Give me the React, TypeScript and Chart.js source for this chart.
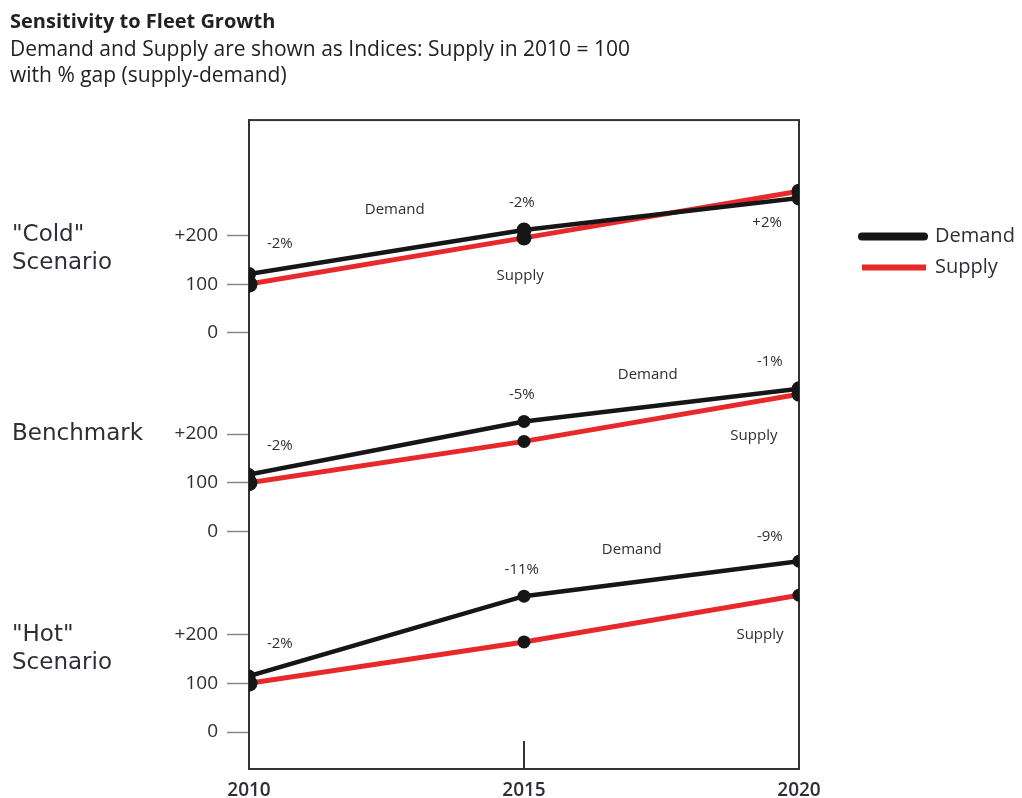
import React, { useEffect, useRef } from 'react';
import { Chart, registerables } from 'chart.js';

Chart.register(...registerables);

// ---- data ----
const years = [2010, 2015, 2020];
const coldDemand = [121, 211, 277];
const coldSupply = [100, 195, 291];
const benchDemand = [117, 226, 293];
const benchSupply = [100, 185, 282];
const hotDemand = [115, 279, 351];
const hotSupply = [100, 185, 281];

const yTickValues = [0, 100, 200];
const yTickLabels = ['0', '100', '+200'];

const titleText = 'Sensitivity to Fleet Growth';
const subtitleLines = [
  'Demand and Supply are shown as Indices: Supply in 2010 = 100',
  'with % gap (supply-demand)',
];
const legendLabels = ['Demand', 'Supply'];

// annotations: [text, year, index value]
const coldNotes: [string, number, number][] = [
  ['-2%', 2010.56, 183],
  ['Demand', 2012.65, 252],
  ['-2%', 2014.96, 267],
  ['Supply', 2014.93, 117],
  ['+2%', 2019.42, 226],
];
const benchNotes: [string, number, number][] = [
  ['-2%', 2010.56, 176],
  ['-5%', 2014.96, 281],
  ['Demand', 2017.25, 322],
  ['-1%', 2019.47, 349],
  ['Supply', 2019.18, 197],
];
const hotNotes: [string, number, number][] = [
  ['-2%', 2010.56, 181],
  ['-11%', 2014.96, 334],
  ['Demand', 2016.96, 375],
  ['-9%', 2019.47, 402],
  ['Supply', 2019.29, 199],
];

const DEMAND_COLOR = '#161616';
const SUPPLY_COLOR = '#e8292b';
const TEXT_COLOR = '#2e2e36';
const FONT = "'Open Sans', 'DejaVu Sans', sans-serif";

export default function App() {
  const ref = useRef<HTMLCanvasElement>(null);

  useEffect(() => {
    const panels = [
      { name: ['"Cold"', 'Scenario'], demand: coldDemand, supply: coldSupply, notes: coldNotes, offset: 820, rd: [7, 7.5, 7.5], rs: [8.5, 7.5, 7.5] },
      { name: ['Benchmark'], demand: benchDemand, supply: benchSupply, notes: benchNotes, offset: 412, rd: [6.5, 6.5, 7.5], rs: [8.5, 6.5, 7.5] },
      { name: ['"Hot"', 'Scenario'], demand: hotDemand, supply: hotSupply, notes: hotNotes, offset: 0, rd: [6.5, 6.5, 6.5], rs: [8.5, 6.5, 6.5] },
    ];

    const datasets: any[] = [];
    panels.forEach((p) => {
      datasets.push({
        label: 'Demand',
        data: years.map((x, i) => ({ x, y: p.demand[i] + p.offset })),
        borderColor: DEMAND_COLOR,
        backgroundColor: DEMAND_COLOR,
        borderWidth: 4.5,
        pointRadius: p.rd,
        pointBackgroundColor: DEMAND_COLOR,
        pointBorderColor: DEMAND_COLOR,
        pointBorderWidth: 0,
        tension: 0,
      });
    });
    panels.forEach((p) => {
      datasets.push({
        label: 'Supply',
        data: years.map((x, i) => ({ x, y: p.supply[i] + p.offset })),
        borderColor: SUPPLY_COLOR,
        backgroundColor: SUPPLY_COLOR,
        borderWidth: 5,
        pointRadius: p.rs,
        pointBackgroundColor: DEMAND_COLOR,
        pointBorderColor: DEMAND_COLOR,
        pointBorderWidth: 0,
        tension: 0,
      });
    });

    const tickVals: number[] = [];
    const tickMap: Record<number, string> = {};
    panels.forEach((p) => {
      yTickValues.forEach((v, i) => {
        tickVals.push(v + p.offset);
        tickMap[v + p.offset] = yTickLabels[i];
      });
    });

    const decor = {
      id: 'decor',
      beforeDatasetsDraw(chart: any) {
        const { ctx, chartArea } = chart;
        const xs = chart.scales.x;
        ctx.save();
        ctx.strokeStyle = '#333';
        ctx.lineWidth = 2;
        ctx.strokeRect(chartArea.left, chartArea.top, chartArea.right - chartArea.left, chartArea.bottom - chartArea.top);
        const x15 = xs.getPixelForValue(2015);
        ctx.beginPath();
        ctx.moveTo(x15, chartArea.bottom);
        ctx.lineTo(x15, chartArea.bottom - 28);
        ctx.stroke();
        ctx.restore();
      },
      afterDatasetsDraw(chart: any) {
        const { ctx } = chart;
        const xs = chart.scales.x;
        const ys = chart.scales.y;
        ctx.save();
        ctx.fillStyle = TEXT_COLOR;
        ctx.textBaseline = 'middle';
        // annotations
        ctx.textAlign = 'center';
        ctx.font = '15px ' + FONT;
        panels.forEach((p) => {
          p.notes.forEach(([t, yr, v]) => {
            ctx.fillText(t, xs.getPixelForValue(yr), ys.getPixelForValue(v + p.offset));
          });
        });
        // scenario names
        ctx.textAlign = 'left';
        ctx.font = "23px 'DejaVu Sans', sans-serif";
        panels.forEach((p) => {
          const y0 = ys.getPixelForValue(200 + p.offset);
          p.name.forEach((line, i) => ctx.fillText(line, 12, y0 + i * 28));
        });
        // legend
        const lx = 862;
        const ly = ys.getPixelForValue(200 + panels[0].offset) + 1;
        ctx.lineCap = 'round';
        ctx.strokeStyle = DEMAND_COLOR;
        ctx.lineWidth = 8;
        ctx.beginPath();
        ctx.moveTo(lx, ly);
        ctx.lineTo(lx + 62, ly);
        ctx.stroke();
        ctx.strokeStyle = SUPPLY_COLOR;
        ctx.lineWidth = 6;
        ctx.lineCap = 'butt';
        ctx.beginPath();
        ctx.moveTo(lx, ly + 31);
        ctx.lineTo(lx + 64, ly + 31);
        ctx.stroke();
        ctx.font = '20px ' + FONT;
        ctx.fillText(legendLabels[0], lx + 73, ly);
        ctx.fillText(legendLabels[1], lx + 73, ly + 31);
        ctx.restore();
      },
    };

    const chart = new Chart(ref.current as HTMLCanvasElement, {
      type: 'line',
      data: { datasets },
      options: {
        animation: false,
        responsive: true,
        maintainAspectRatio: false,
        layout: { padding: { left: 10, right: 223, top: 0, bottom: 0 } },
        plugins: {
          legend: { display: false },
          tooltip: { enabled: false },
          title: {
            display: true,
            text: titleText,
            align: 'start',
            color: '#222',
            font: { family: FONT, size: 20, weight: 'bold', lineHeight: 1.2 },
            padding: { top: 10, bottom: 3 },
          },
          subtitle: {
            display: true,
            text: subtitleLines,
            align: 'start',
            color: '#222',
            font: { family: FONT, size: 21, lineHeight: 1.24 },
            padding: { top: 0, bottom: 31 },
          },
        },
        scales: {
          x: {
            type: 'linear',
            min: 2010,
            max: 2020,
            afterFit: (s: any) => { s.height = 29; },
            afterBuildTicks: (s: any) => { s.ticks = years.map((v) => ({ value: v })); },
            ticks: {
              callback: (v: any) => String(v),
              color: TEXT_COLOR,
              font: { family: FONT, size: 19, weight: '600' },
              padding: 10,
              maxRotation: 0,
            },
            grid: { drawOnChartArea: false, drawTicks: false },
            border: { display: true, color: '#333', width: 2 },
          },
          y: {
            type: 'linear',
            min: -76,
            max: 1257,
            afterFit: (s: any) => { s.width = 239; },
            afterBuildTicks: (s: any) => { s.ticks = tickVals.map((v) => ({ value: v })); },
            ticks: {
              callback: (v: any) => tickMap[v] ?? '',
              color: TEXT_COLOR,
              font: { family: FONT, size: 19 },
              padding: 9,
            },
            grid: { drawOnChartArea: false, drawTicks: true, tickLength: 22, tickColor: '#888', tickWidth: 1.5 },
            border: { display: true, color: '#333', width: 2 },
          },
        },
      },
      plugins: [decor],
    });
    return () => chart.destroy();
  }, []);

  return (
    <div style={{ position: 'absolute', left: 0, top: 0, width: 1022, height: 798 }}>
      <canvas ref={ref} />
    </div>
  );
}
